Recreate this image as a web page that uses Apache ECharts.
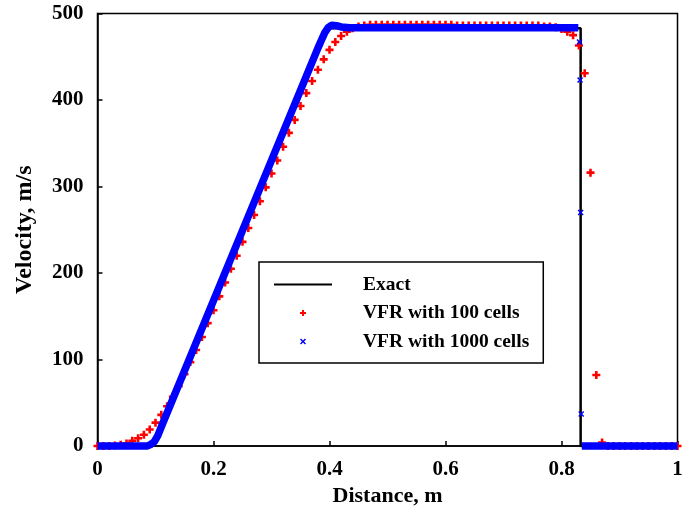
<!DOCTYPE html>
<html>
<head>
<meta charset="utf-8">
<script src="https://cdn.jsdelivr.net/npm/echarts@6/dist/echarts.min.js"></script>
<style>
html,body{margin:0;padding:0;background:#fff;}
#chart{width:694px;height:515px;}
</style>
</head>
<body>
<div id="chart"></div>
<script>
// ---- data ----
const xTicks = [0, 0.2, 0.4, 0.6, 0.8, 1];
const yTicks = [0, 100, 200, 300, 400, 500];

const exactX = [0, 0.096, 0.394, 0.833, 0.833, 1];
const exactV = [0, 0, 483, 483, 0, 0];

const red100X = [0,0.01,0.02,0.03,0.04,0.05,0.06,0.07,0.08,0.09,
  0.10,0.11,0.12,0.13,0.14,0.15,0.16,0.17,0.18,0.19,
  0.20,0.21,0.22,0.23,0.24,0.25,0.26,0.27,0.28,0.29,
  0.30,0.31,0.32,0.33,0.34,0.35,0.36,0.37,0.38,0.39,
  0.40,0.41,0.42,0.43,0.44,0.45,0.46,0.47,0.48,0.49,
  0.50,0.51,0.52,0.53,0.54,0.55,0.56,0.57,0.58,0.59,
  0.60,0.61,0.62,0.63,0.64,0.65,0.66,0.67,0.68,0.69,
  0.70,0.71,0.72,0.73,0.74,0.75,0.76,0.77,0.78,0.79,
  0.80,0.81,0.82,0.83,0.84,0.85,0.86,0.87,0.88,0.89,
  0.90,0.91,0.92,0.93,0.94,0.95,0.96,0.97,0.98,0.99,1.00];
const red100V = [0,0,0,0.5,1.5,3,6,9,13,19,
  27,36,46,57,69,83,97,111,126,142,
  157,173,189,205,220,236,252,267,283,299,
  315,330,346,362,377,393,408,422,435,447,
  458,467,474,479,483,485,486,487,487,487,
  487,487,487,487,487,487,487,487,487,487,
  487,487,486,486,486,486,486,486,486,486,
  486,486,486,486,486,486,486,485,485,484,
  482,479,475,463,431,316,82,4,0,0,
  0,0,0,0,0,0,0,0,0,0,0];

const blueBandX = [0, 0.086, 0.092, 0.098, 0.104, 0.110, 0.380, 0.386, 0.392, 0.398, 0.404, 0.412, 0.420, 0.435, 0.829];
const blueBandV = [0, 0, 2, 5, 12, 22, 460, 469, 478, 484, 486.5, 486, 484.5, 483.5, 483.5];
const blueShockX = [0.831, 0.832, 0.833, 0.834];
const blueShockV = [467, 423, 270, 37];
const blueTailX = [0.835, 1];
const blueTailV = [0, 0];

// ---- styling ----
const FONT = 'Liberation Serif';
const plusPath = 'path://M2.7,0H5.3V2.7H8V5.3H5.3V8H2.7V5.3H0V2.7H2.7Z';
const crossPath = 'path://M0,1.2L1.2,0L3.5,2.3L5.8,0L7,1.2L4.7,3.5L7,5.8L5.8,7L3.5,4.7L1.2,7L0,5.8L2.3,3.5Z';
const linePath = 'path://M0,0H58V2H0Z';

const zip = (xs, ys) => xs.map((x, i) => [x, ys[i]]);

const blueData = [];
zip(blueBandX, blueBandV).forEach(p => blueData.push(p));
blueShockX.forEach((x, i) => {
  blueData.push('-');
  blueData.push({ value: [x, blueShockV[i]], symbol: crossPath, symbolSize: 6 });
});
blueData.push('-');
zip(blueTailX, blueTailV).forEach(p => blueData.push(p));

const chart = echarts.init(document.getElementById('chart'), null, { renderer: 'canvas' });
chart.setOption({
  animation: false,
  backgroundColor: '#fff',
  grid: {
    left: 97.5, top: 13.5, right: 16.5, bottom: 69,
    show: true, borderColor: '#000', borderWidth: 1.5, backgroundColor: 'transparent'
  },
  xAxis: {
    type: 'value', min: 0, max: 1, interval: 0.2,
    name: 'Distance, m', nameLocation: 'middle', nameGap: 35,
    nameTextStyle: { fontFamily: FONT, fontWeight: 'bold', fontSize: 22, color: '#000' },
    axisLine: { show: true, lineStyle: { color: '#000', width: 1.5 } },
    axisTick: { show: true, inside: true, length: 5, lineStyle: { color: '#000', width: 1.5 } },
    axisLabel: { margin: 13, fontFamily: FONT, fontWeight: 'bold', fontSize: 21, color: '#000',
      formatter: v => String(xTicks.find(t => Math.abs(t - v) < 1e-9) ?? v) },
    splitLine: { show: false }
  },
  yAxis: {
    type: 'value', min: 0, max: 500, interval: 100,
    name: 'Velocity, m/s', nameLocation: 'middle', nameGap: 61,
    nameTextStyle: { fontFamily: FONT, fontWeight: 'bold', fontSize: 24, color: '#000' },
    axisLine: { show: true, lineStyle: { color: '#000', width: 1.5 } },
    axisTick: { show: true, inside: true, length: 5, lineStyle: { color: '#000', width: 1.5 } },
    axisLabel: { margin: 14, fontFamily: FONT, fontWeight: 'bold', fontSize: 21, color: '#000',
      formatter: v => String(yTicks.find(t => Math.abs(t - v) < 1e-9) ?? v) },
    splitLine: { show: false }
  },
  legend: {
    orient: 'vertical', left: 259, top: 262,
    backgroundColor: '#fff', borderColor: '#000', borderWidth: 1.5,
    padding: [12.5, 14, 11.5, 15],
    itemWidth: 58, itemHeight: 6, itemGap: 8.5,
    selectedMode: false,
    textStyle: { fontFamily: FONT, fontWeight: 'bold', fontSize: 19.5, lineHeight: 19, color: '#000', padding: [0, 0, 0, 26] },
    data: [
      { name: 'Exact', icon: linePath },
      { name: 'VFR with 100 cells', icon: plusPath },
      { name: 'VFR with 1000 cells', icon: crossPath }
    ]
  },
  series: [
    {
      name: 'Exact', type: 'line', data: zip(exactX, exactV),
      symbol: 'none', color: '#000', clip: false, z: 1,
      lineStyle: { color: '#000', width: 2.5 }
    },
    {
      name: 'VFR with 100 cells', type: 'scatter', data: zip(red100X, red100V),
      symbol: plusPath, symbolSize: 8, color: '#ff0000', clip: false, z: 2,
      itemStyle: { color: '#ff0000', opacity: 1 }
    },
    {
      name: 'VFR with 1000 cells', type: 'line', data: blueData,
      symbol: 'none', showSymbol: true, color: '#0000ff', clip: false, z: 3,
      connectNulls: false,
      itemStyle: { color: '#0000ff' },
      lineStyle: { color: '#0000ff', width: 7.5, join: 'round', cap: 'butt' }
    }
  ]
});
</script>
</body>
</html>
